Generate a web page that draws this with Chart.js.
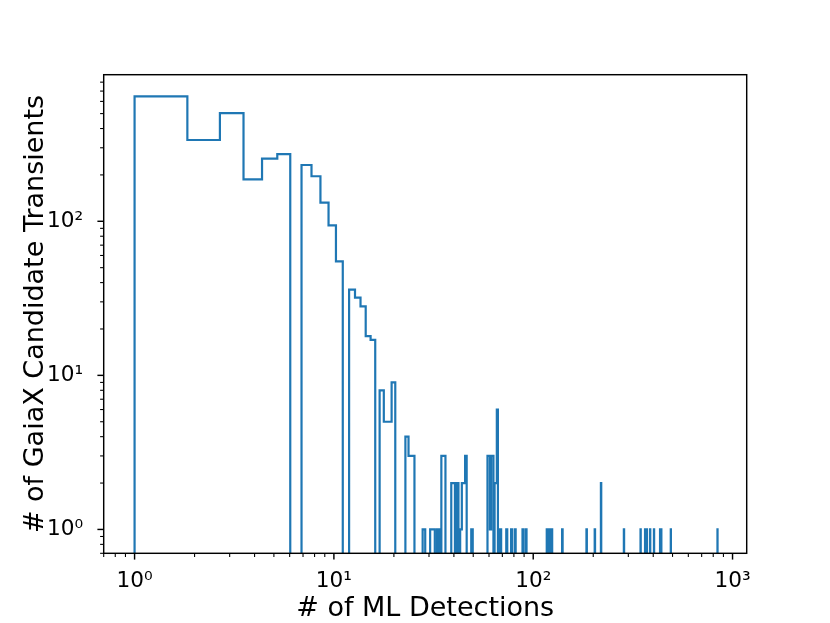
<!DOCTYPE html>
<html>
<head>
<meta charset="utf-8">
<title>ML detections per GaiaX candidate transient</title>
<script src="https://cdn.jsdelivr.net/npm/chart.js@4.4.1/dist/chart.umd.min.js"></script>
<style>
    html, body { margin: 0; padding: 0; background: #fff; }
    #histChart { display: block; }
</style>
</head>
<body>
<canvas id="histChart" width="830" height="623"></canvas>
<script>
// number of ML detections and how many transients have that number
const mlDetections = [
    1, 2, 3, 4, 5, 6, 7, 8, 9, 10, 11, 12, 13, 14, 15, 16, 17, 18, 19, 20,
    23, 24, 25, 28, 31, 32, 33, 35, 36, 39, 40, 42, 43, 44, 45, 46, 49,
    59, 60, 61, 62, 63, 64, 65, 66, 69, 74, 78, 81, 89, 92,
    117, 120, 122, 124, 140, 185, 204, 219, 285, 346, 364, 372, 386, 404, 433, 439, 490, 841
];
const transientCounts = [
    647, 337, 503, 187, 255, 273, 232, 196, 132, 94, 55, 36, 32, 28, 18, 17, 8, 5, 5, 9,
    4, 3, 3, 1, 1, 1, 1, 3, 3, 2, 2, 2, 1, 2, 2, 3, 1,
    3, 3, 1, 3, 3, 2, 2, 6, 1, 1, 1, 1, 1, 1,
    1, 1, 1, 1, 1, 1, 1, 2, 1, 1, 1, 1, 1, 1, 1, 1, 1, 1
];

const nBins = 1000;
const xTickValues = [1, 10, 100, 1000];
const xTickLabels = ['10⁰', '10¹', '10²', '10³'];
const yTickValues = [1, 10, 100];
const yTickLabels = ['10⁰', '10¹', '10²'];

const FONT = 'DejaVu Sans';
const LINE_COLOR = '#1f77b4';

// linear bins between smallest and largest value, like numpy.histogram
function buildHistogram(values, weights, bins) {
    const lo = Math.min(...values);
    const hi = Math.max(...values);
    const width = (hi - lo) / bins;
    const edges = [];
    for (let k = 0; k <= bins; k++) edges.push(lo + k * width);
    const counts = new Array(bins).fill(0);
    values.forEach((v, i) => {
        let k = Math.floor((v - lo) / width + 1e-9);
        if (k >= bins) k = bins - 1;
        counts[k] += weights[i];
    });
    return { edges, counts };
}

// matplotlib style 5% margins in log space
function logLimits(lo, hi) {
    const a = Math.log10(lo), b = Math.log10(hi);
    const m = 0.05 * (b - a);
    return [Math.pow(10, a - m), Math.pow(10, b + m)];
}

const hist = buildHistogram(mlDetections, transientCounts, nBins);
const [xMin, xMax] = logLimits(Math.min(...mlDetections), Math.max(...mlDetections));
const [yMin, yMax] = logLimits(1, Math.max(...hist.counts));

// empty bins fall below the axis and get clipped (like log(0) in matplotlib)
const emptyLevel = yMin / 10;
const stepPoints = [{ x: hist.edges[0], y: emptyLevel }];
hist.counts.forEach((c, k) => {
    stepPoints.push({ x: hist.edges[k], y: c > 0 ? c : emptyLevel });
});
stepPoints.push({ x: hist.edges[nBins], y: emptyLevel });

function logTickValues(min, max) {
    const out = [];
    for (let e = Math.floor(Math.log10(min)); e <= Math.ceil(Math.log10(max)); e++) {
        for (let m = 1; m <= 9; m++) {
            const v = m * Math.pow(10, e);
            if (v >= min && v <= max) out.push({ v, major: m === 1 });
        }
    }
    return out;
}

// spines and outward tick marks, matplotlib look
const axisFrame = {
    id: 'axisFrame',
    afterDraw(chart) {
        const { ctx, chartArea: a, scales } = chart;
        ctx.save();
        ctx.strokeStyle = '#000';
        ctx.lineCap = 'butt';

        logTickValues(scales.x.min, scales.x.max).forEach(t => {
            const px = scales.x.getPixelForValue(t.v);
            ctx.lineWidth = t.major ? 1.44 : 1.08;
            ctx.beginPath();
            ctx.moveTo(px, a.bottom);
            ctx.lineTo(px, a.bottom + (t.major ? 6.3 : 3.6));
            ctx.stroke();
        });
        logTickValues(scales.y.min, scales.y.max).forEach(t => {
            const py = scales.y.getPixelForValue(t.v);
            ctx.lineWidth = t.major ? 1.44 : 1.08;
            ctx.beginPath();
            ctx.moveTo(a.left, py);
            ctx.lineTo(a.left - (t.major ? 6.3 : 3.6), py);
            ctx.stroke();
        });

        ctx.lineWidth = 1.44;
        ctx.lineJoin = 'miter';
        ctx.strokeRect(a.left, a.top, a.right - a.left, a.bottom - a.top);
        ctx.restore();
    }
};

Chart.defaults.color = '#000';
Chart.defaults.font.family = FONT;

new Chart(document.getElementById('histChart').getContext('2d'), {
    type: 'line',
    data: {
        datasets: [{
            data: stepPoints,
            borderColor: LINE_COLOR,
            borderWidth: 2.2,
            pointRadius: 0,
            fill: false,
            tension: 0,
            stepped: 'before'
        }]
    },
    options: {
        responsive: false,
        animation: false,
        events: [],
        layout: { padding: { left: 0, top: 74.7, right: 83.3, bottom: 0 } },
        plugins: {
            legend: { display: false },
            tooltip: { enabled: false }
        },
        scales: {
            x: {
                type: 'logarithmic',
                position: 'bottom',
                min: xMin,
                max: xMax,
                grid: { display: false },
                border: { display: false },
                afterBuildTicks: s => { s.ticks = xTickValues.map(v => ({ value: v })); },
                afterFit: s => { s.height = 69.7; },
                ticks: {
                    autoSkip: false,
                    maxRotation: 0,
                    padding: 7,
                    font: { size: 21.6 },
                    callback: (v, i) => xTickLabels[i]
                },
                title: {
                    display: true,
                    text: '# of ML Detections',
                    font: { size: 27 },
                    padding: { top: 0, bottom: -2 }
                }
            },
            y: {
                type: 'logarithmic',
                position: 'left',
                min: yMin,
                max: yMax,
                grid: { display: false },
                border: { display: false },
                afterBuildTicks: s => { s.ticks = yTickValues.map(v => ({ value: v })); },
                afterFit: s => { s.width = 103.7; },
                ticks: {
                    autoSkip: false,
                    padding: 12.6,
                    font: { size: 21.6 },
                    callback: (v, i) => yTickLabels[i]
                },
                title: {
                    display: true,
                    text: '# of GaiaX Candidate Transients',
                    font: { size: 27 },
                    padding: { top: 19.5, bottom: 0 }
                }
            }
        }
    },
    plugins: [axisFrame]
});
</script>
</body>
</html>
